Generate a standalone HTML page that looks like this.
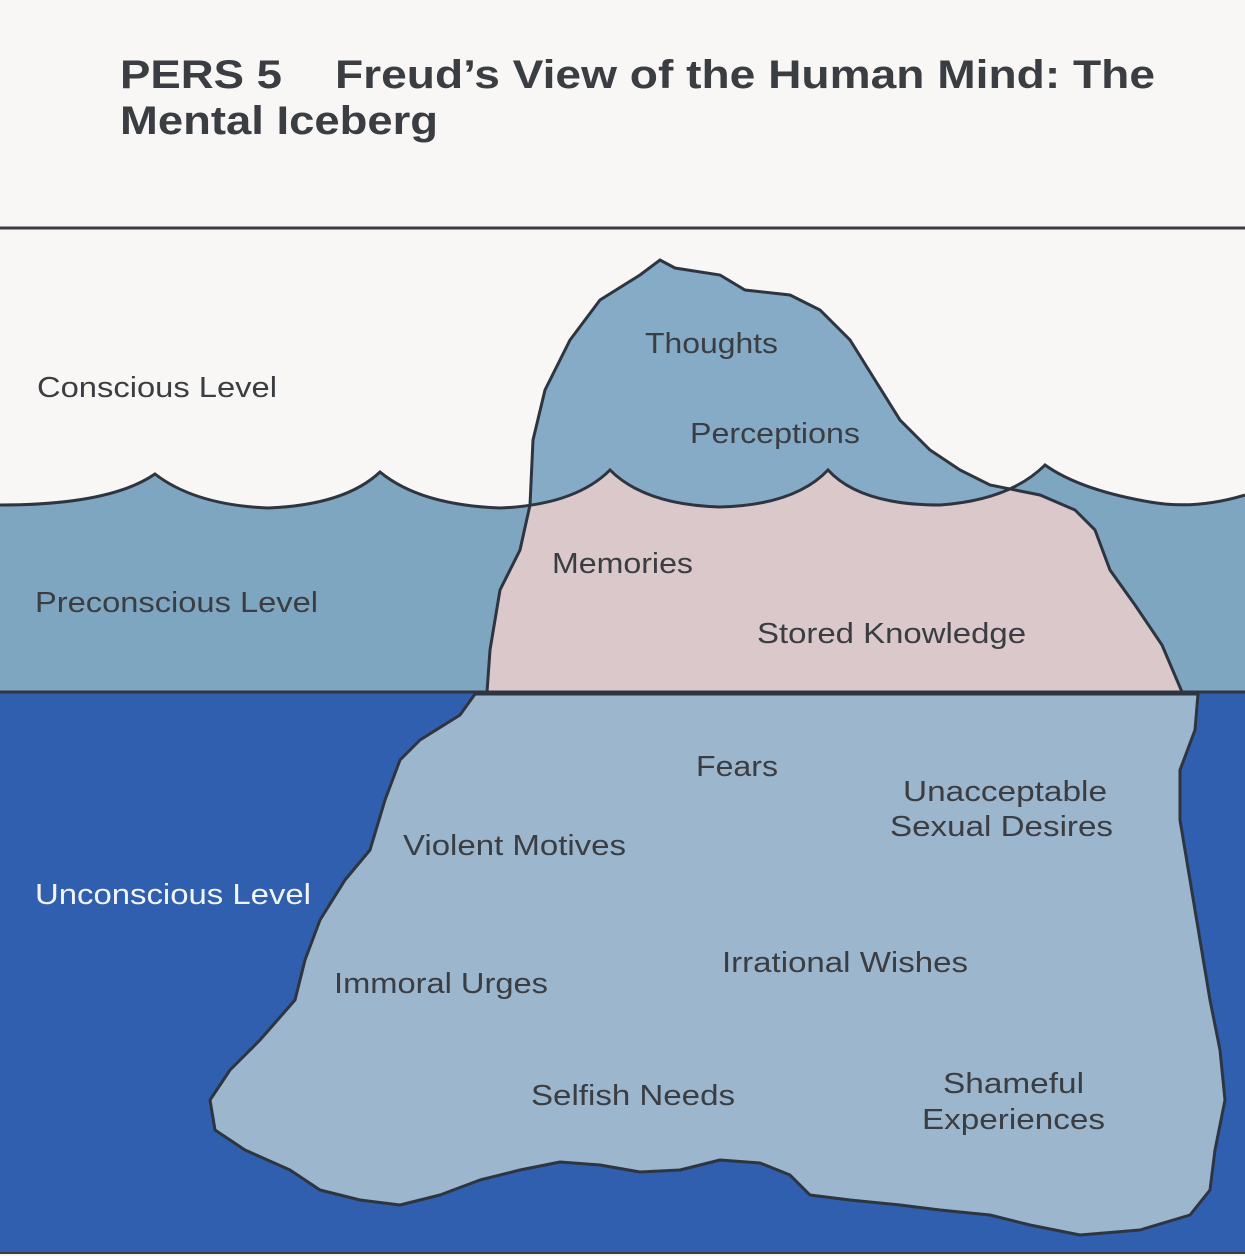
<!DOCTYPE html>
<html><head><meta charset="utf-8"><style>
html,body{margin:0;padding:0;background:#f9f7f5;}
svg{display:block;}
text{font-family:"Liberation Sans",sans-serif;fill:#3a3d42;}
</style></head><body>
<svg width="1245" height="1256" viewBox="0 0 1245 1256" xmlns="http://www.w3.org/2000/svg">
<defs>
<clipPath id="sky">
<path d="M0,0 H1245 V495 Q1195,510 1150,502 Q1080,490 1045,465 Q1010,500 940,505 Q860,505 828,470 Q795,505 720,507 Q645,505 610,470 Q575,505 500,508 Q420,505 380,472 Q345,505 268,508 Q195,505 155,474 Q110,505 0,505 Z"/>
</clipPath>
</defs>
<rect width="1245" height="1256" fill="#f9f7f5"/>
<!-- preconscious water -->
<path d="M0,505 Q110,505 155,474 Q195,505 268,508 Q345,505 380,472 Q420,505 500,508 Q575,505 610,470 Q645,505 720,507 Q795,505 828,470 Q860,505 940,505 Q1010,500 1045,465 Q1080,490 1150,502 Q1195,510 1245,495 V692 H0 Z" fill="#7fa6c0"/>
<!-- unconscious -->
<rect x="0" y="692" width="1245" height="562" fill="#2f5fae"/>
<!-- upper iceberg (pink below water) -->
<path id="ub" d="M487,692 L490,650 L500,590 L520,550 L530,505 L533,440 L545,390 L570,340 L600,300 L640,275 L660,260 L675,268 L720,275 L745,290 L790,295 L820,310 L850,340 L875,380 L900,420 L930,450 L960,470 L990,485 L1040,495 L1075,510 L1095,530 L1110,570 L1135,605 L1162,645 L1182,692 Z" fill="#dac8ca"/>
<path d="M487,692 L490,650 L500,590 L520,550 L530,505 L533,440 L545,390 L570,340 L600,300 L640,275 L660,260 L675,268 L720,275 L745,290 L790,295 L820,310 L850,340 L875,380 L900,420 L930,450 L960,470 L990,485 L1040,495 L1075,510 L1095,530 L1110,570 L1135,605 L1162,645 L1182,692 Z" fill="#86abc6" clip-path="url(#sky)"/>
<!-- wave line -->
<path d="M0,505 Q110,505 155,474 Q195,505 268,508 Q345,505 380,472 Q420,505 500,508 Q575,505 610,470 Q645,505 720,507 Q795,505 828,470 Q860,505 940,505 Q1010,500 1045,465 Q1080,490 1150,502 Q1195,510 1245,495" fill="none" stroke="#2e3540" stroke-width="3"/>
<path d="M487,692 L490,650 L500,590 L520,550 L530,505 L533,440 L545,390 L570,340 L600,300 L640,275 L660,260 L675,268 L720,275 L745,290 L790,295 L820,310 L850,340 L875,380 L900,420 L930,450 L960,470 L990,485 L1040,495 L1075,510 L1095,530 L1110,570 L1135,605 L1162,645 L1182,692" fill="none" stroke="#2e3540" stroke-width="3"/>
<!-- lower iceberg -->
<path d="M475,694 L460,715 L420,740 L400,760 L385,800 L370,850 L345,880 L320,920 L305,960 L295,1000 L260,1040 L230,1070 L210,1100 L215,1130 L245,1150 L290,1170 L320,1190 L360,1200 L400,1205 L440,1195 L480,1180 L520,1170 L560,1162 L600,1165 L640,1172 L680,1170 L720,1160 L760,1163 L790,1175 L810,1195 L850,1200 L900,1205 L940,1210 L990,1215 L1030,1225 L1080,1235 L1140,1230 L1190,1215 L1210,1190 L1215,1150 L1225,1100 L1220,1050 L1210,1000 L1200,940 L1190,880 L1180,820 L1180,770 L1195,730 L1198,694 Z" fill="#9bb6cd" stroke="#2e3540" stroke-width="3" stroke-linejoin="round"/>
<!-- lines -->
<line x1="0" y1="228" x2="1245" y2="228" stroke="#3a3d42" stroke-width="3"/>
<line x1="0" y1="692" x2="1245" y2="692" stroke="#2e3540" stroke-width="3"/>
<line x1="0" y1="1253" x2="1245" y2="1253" stroke="#3a3d42" stroke-width="2"/>
<!-- title -->
<g style="font-weight:bold;font-size:40px">
<text x="120" y="88" textLength="162" lengthAdjust="spacingAndGlyphs">PERS 5</text>
<text x="335" y="88" textLength="820" lengthAdjust="spacingAndGlyphs">Freud’s View of the Human Mind:  The</text>
<text x="120" y="134" textLength="318" lengthAdjust="spacingAndGlyphs">Mental Iceberg</text>
</g>
<g style="font-size:29px">
<text x="37" y="397" textLength="240" lengthAdjust="spacingAndGlyphs">Conscious Level</text>
<text x="645" y="353" textLength="133" lengthAdjust="spacingAndGlyphs">Thoughts</text>
<text x="690" y="443" textLength="170" lengthAdjust="spacingAndGlyphs">Perceptions</text>
<text x="35" y="612" textLength="283" lengthAdjust="spacingAndGlyphs">Preconscious Level</text>
<text x="552" y="573" textLength="141" lengthAdjust="spacingAndGlyphs">Memories</text>
<text x="757" y="643" textLength="269" lengthAdjust="spacingAndGlyphs">Stored Knowledge</text>
<text x="696" y="776" textLength="82" lengthAdjust="spacingAndGlyphs">Fears</text>
<text x="903" y="801" textLength="204" lengthAdjust="spacingAndGlyphs">Unacceptable</text>
<text x="890" y="836" textLength="223" lengthAdjust="spacingAndGlyphs">Sexual Desires</text>
<text x="403" y="855" textLength="223" lengthAdjust="spacingAndGlyphs">Violent Motives</text>
<text x="35" y="904" textLength="276" lengthAdjust="spacingAndGlyphs" style="fill:#f2f4f8">Unconscious Level</text>
<text x="722" y="972" textLength="246" lengthAdjust="spacingAndGlyphs">Irrational Wishes</text>
<text x="334" y="993" textLength="214" lengthAdjust="spacingAndGlyphs">Immoral Urges</text>
<text x="531" y="1105" textLength="204" lengthAdjust="spacingAndGlyphs">Selfish Needs</text>
<text x="943" y="1093" textLength="141" lengthAdjust="spacingAndGlyphs">Shameful</text>
<text x="922" y="1129" textLength="183" lengthAdjust="spacingAndGlyphs">Experiences</text>
</g>
</svg>
</body></html>
